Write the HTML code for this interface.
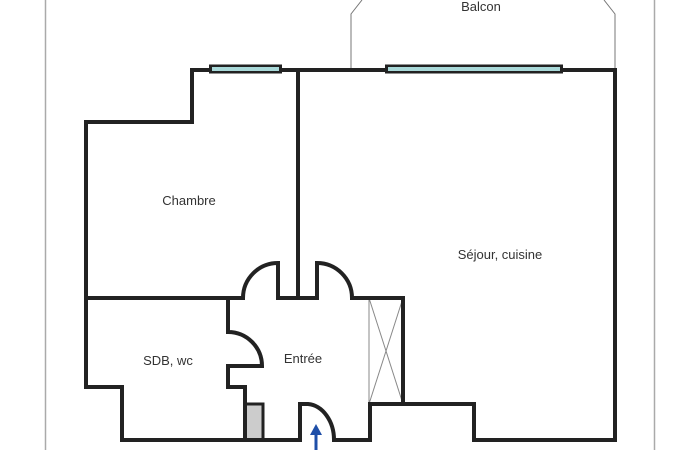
<!DOCTYPE html>
<html><head><meta charset="utf-8"><style>
html,body{margin:0;padding:0;background:#fff;width:700px;height:450px;overflow:hidden}
text{font-family:"Liberation Sans",Arial,sans-serif;font-size:13px;fill:#333}
</style></head><body>
<svg width="700" height="450" viewBox="0 0 700 450" xmlns="http://www.w3.org/2000/svg">
<line x1="45.5" y1="0" x2="45.5" y2="450" stroke="#aaa" stroke-width="1.5"/>
<line x1="654.5" y1="0" x2="654.5" y2="450" stroke="#aaa" stroke-width="1.5"/>
<!-- balcon -->
<polyline points="351,70 351,14 362,0" fill="none" stroke="#777" stroke-width="1"/>
<polyline points="615,70 615,14 604,0" fill="none" stroke="#777" stroke-width="1"/>
<!-- closet -->
<rect x="369" y="298" width="34" height="106" fill="none" stroke="#888" stroke-width="1"/>
<line x1="369" y1="298" x2="403" y2="404" stroke="#888" stroke-width="1"/>
<line x1="403" y1="298" x2="369" y2="404" stroke="#888" stroke-width="1"/>
<!-- gray box -->
<rect x="245" y="404" width="18" height="36" fill="#ccc" stroke="#222" stroke-width="3"/>
<g fill="none" stroke="#222" stroke-width="4" stroke-linejoin="miter">
<!-- outer -->
<path d="M298,70 L192,70 L192,122 L86,122 L86,387 L122,387 L122,440 L300,440 L300,404 L308,404 A28,36 0 0 1 334,440 L370,440 L370,404 L474,404 L474,440 L615,440 L615,70 L298,70"/>
<line x1="298" y1="70" x2="298" y2="298"/>
<path d="M86,298 L243,298 A35,35 0 0 1 278,263 L278,298 L317,298 L317,263 A35,35 0 0 1 352,298 L403,298 L403,404"/>
<path d="M228,298 L228,332 A34,34 0 0 1 262,366 L228,366 L228,387 L245,387 L245,440"/>
</g>
<!-- windows -->
<rect x="209" y="64.5" width="73" height="9" fill="#222"/>
<rect x="212" y="67" width="67" height="4" fill="#a8d8d8"/>
<rect x="385" y="64.5" width="178" height="9" fill="#222"/>
<rect x="388" y="67" width="172" height="4" fill="#a8d8d8"/>
<!-- arrow -->
<line x1="316" y1="432" x2="316" y2="450" stroke="#1f4fa8" stroke-width="3"/>
<polygon points="316,424 310,435 322,435" fill="#1f4fa8"/>
<text x="481" y="11" text-anchor="middle">Balcon</text>
<text x="189" y="205" text-anchor="middle">Chambre</text>
<text x="500" y="259" text-anchor="middle">Séjour, cuisine</text>
<text x="168" y="365" text-anchor="middle">SDB, wc</text>
<text x="303" y="363" text-anchor="middle">Entrée</text>
</svg>
</body></html>
